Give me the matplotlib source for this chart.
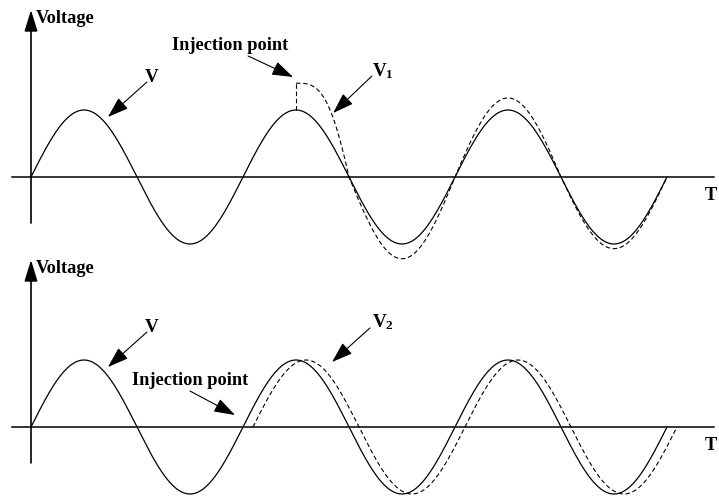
import numpy as np
import matplotlib
matplotlib.use('agg')
import matplotlib.pyplot as plt

plt.rcParams['font.family'] = 'Liberation Serif'
plt.rcParams['font.weight'] = 'bold'
plt.rcParams['mathtext.fontset'] = 'custom'
plt.rcParams['mathtext.rm'] = 'Liberation Serif:bold'
plt.rcParams['mathtext.bf'] = 'Liberation Serif:bold'

# time in periods of V, voltage in units of the amplitude of V
n_periods = 3
amplitude = 1.0

# V1: injected at the crest, overshoot that dies out over the next half cycles
v1_t0 = 1.25
v1_crest = 1.40
v1_half_amps = [1.22, 1.18, 1.07]

# V2: injected just after a zero crossing, same shape but lagging
v2_t0 = 1.047
v2_lag = 0.047

FS = 13.2
DASH = (0, (4, 2.5))

fig = plt.figure(figsize=(7.19, 4.97), dpi=100)
ax1 = fig.add_axes([0, 247 / 497, 1, 250 / 497])
ax2 = fig.add_axes([0, 0, 1, 247 / 497])

ax1.set_ylim(-73 / 67, 177 / 67)
ax2.set_ylim(-70 / 67, 177 / 67)


def arrow(ax, tail, tip, scale=20, hl=0.65, hw=0.22, lw=0.8):
    ax.annotate('', xy=tip, xytext=tail,
                arrowprops=dict(arrowstyle='-|>,head_length=%g,head_width=%g' % (hl, hw),
                                mutation_scale=scale, color='k', lw=lw,
                                shrinkA=0, shrinkB=0))


def base(ax, y_low):
    ax.set_xlim(-31 / 212, 688 / 212)
    ax.axis('off')
    # coordinate axes
    ax.plot([-0.0896, 3.22], [0, 0], color='k', lw=1.1)
    arrow(ax, (3.2, 0), (3.262, 0), hl=0.5, hw=0.2, lw=1.1)
    arrow(ax, (0, y_low), (0, 2.493), hl=0.65, hw=0.2, lw=1.2)
    ax.text(0.024, 2.299, 'Voltage', fontsize=FS, ha='left', va='baseline')
    ax.text(3.179, -0.343, 'T', fontsize=FS, ha='left', va='baseline')
    # reference wave V
    t = np.linspace(0, n_periods, 1200)
    ax.plot(t, amplitude * np.sin(2 * np.pi * t), color='k', lw=0.9, clip_on=False)
    ax.text(0.538, 1.418, 'V', fontsize=FS + 0.5, ha='left', va='baseline')
    arrow(ax, (0.547, 1.418), (0.363, 0.896))


base(ax1, -0.687)
base(ax2, -0.537)

# top: V1 with its overshoot
ax1.plot([v1_t0, v1_t0], [amplitude, v1_crest], color='k', lw=0.8, ls=DASH)
tq = np.linspace(v1_t0, 1.5, 100)
fq = (tq - v1_t0) / (1.5 - v1_t0)
t1 = [tq]
y1 = [v1_crest * np.cos(np.pi / 2 * fq ** 1.6)]
for k, a in enumerate(v1_half_amps):
    th = np.linspace(1.5 + 0.5 * k, 2.0 + 0.5 * k, 200)
    t1.append(th)
    y1.append(a * np.sin(2 * np.pi * th))
ax1.plot(np.concatenate(t1), np.concatenate(y1), color='k', lw=0.8, ls=DASH,
         clip_on=False)

ax1.text(0.665, 1.896, 'Injection point', fontsize=FS, ha='left', va='baseline')
arrow(ax1, (1.024, 1.806), (1.236, 1.493))
ax1.text(1.608, 1.507, r'$\mathbf{V_1}$', fontsize=FS + 0.5, ha='left', va='baseline')
arrow(ax1, (1.608, 1.507), (1.425, 0.955))

# bottom: V2 lagging V
t2 = np.linspace(v2_t0, n_periods + v2_lag, 800)
ax2.plot(t2, amplitude * np.sin(2 * np.pi * (t2 - v2_lag)), color='k', lw=0.8, ls=DASH,
         clip_on=False)

ax2.text(0.476, 0.627, 'Injection point', fontsize=FS, ha='left', va='baseline')
arrow(ax2, (0.75, 0.537), (0.962, 0.179))
ax2.text(1.608, 1.493, r'$\mathbf{V_2}$', fontsize=FS + 0.5, ha='left', va='baseline')
arrow(ax2, (1.599, 1.478), (1.42, 0.97))

fig.savefig('out.png', dpi=100)
plt.close(fig)
